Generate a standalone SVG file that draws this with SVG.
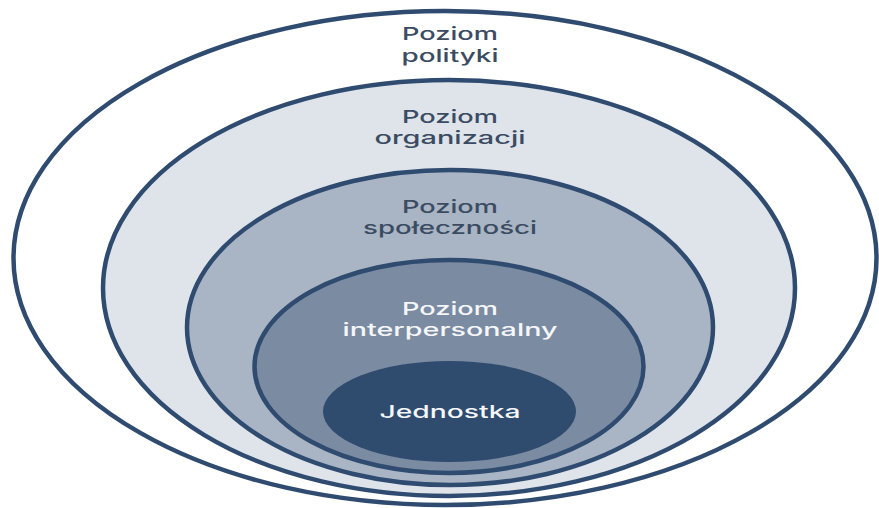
<svg xmlns="http://www.w3.org/2000/svg" width="879" height="508" viewBox="0 0 879 508">
  <style>
    .ring { stroke: #2f4c70; stroke-width: 4.5; }
    .lbl { font-family: Inter, "Open Sans", "Noto Sans", "Liberation Sans", sans-serif; font-size: 17.5px; font-weight: 500; text-anchor: middle; }
    .dark { fill: #3b4c62; }
    .light { fill: #f4f6f9; }
  </style>
  <rect x="0" y="0" width="879" height="508" fill="#ffffff"/>
  <g id="poziom-polityki">
    <ellipse class="ring" cx="445" cy="258" rx="431.5" ry="247" fill="#ffffff"/>
    <text class="lbl dark" x="450" y="40" textLength="96" lengthAdjust="spacingAndGlyphs">Poziom</text>
    <text class="lbl dark" x="450" y="62" textLength="97" lengthAdjust="spacingAndGlyphs">polityki</text>
  </g>
  <g id="poziom-organizacji">
    <ellipse class="ring" cx="449" cy="288" rx="346" ry="208" fill="#dfe4eb"/>
    <text class="lbl dark" x="450" y="123" textLength="96" lengthAdjust="spacingAndGlyphs">Poziom</text>
    <text class="lbl dark" x="450" y="144" textLength="151" lengthAdjust="spacingAndGlyphs">organizacji</text>
  </g>
  <g id="poziom-spolecznosci">
    <ellipse class="ring" cx="450" cy="327.5" rx="263" ry="157.5" fill="#a9b5c4"/>
    <text class="lbl dark" x="450" y="213" textLength="96" lengthAdjust="spacingAndGlyphs">Poziom</text>
    <text class="lbl dark" x="450" y="234" textLength="174" lengthAdjust="spacingAndGlyphs">społeczności</text>
  </g>
  <g id="poziom-interpersonalny">
    <ellipse class="ring" cx="449" cy="366.5" rx="194.5" ry="106.5" fill="#7a8ba2"/>
    <text class="lbl light" x="450" y="315" textLength="96" lengthAdjust="spacingAndGlyphs">Poziom</text>
    <text class="lbl light" x="450" y="336" textLength="215" lengthAdjust="spacingAndGlyphs">interpersonalny</text>
  </g>
  <g id="jednostka">
    <ellipse cx="449.5" cy="411.5" rx="126.5" ry="50.5" fill="#2f4b6e"/>
    <text class="lbl light" x="450" y="418" textLength="141" lengthAdjust="spacingAndGlyphs">Jednostka</text>
  </g>
  <g id="connectors"/>
</svg>
